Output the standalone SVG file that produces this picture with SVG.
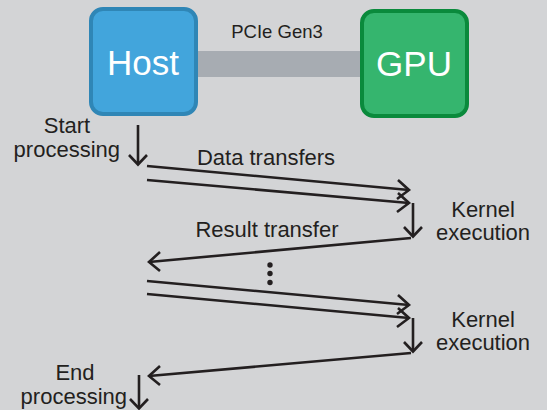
<svg xmlns="http://www.w3.org/2000/svg" width="547" height="410" viewBox="0 0 547 410">
<style>
.t{font-family:"Liberation Sans",Arial,sans-serif;font-size:22px;fill:#231f20}
.big{font-family:"Liberation Sans",Arial,sans-serif;font-size:35px;fill:#ffffff;text-anchor:middle}
.ln{stroke:#231f20;stroke-width:2.6;fill:none;stroke-linecap:butt}
.hd{stroke:#231f20;stroke-width:2.6;fill:none;stroke-linejoin:miter}
</style>
<rect width="547" height="410" fill="#d3d4d6"/>
<g id="link">
<rect x="195" y="51" width="168" height="26" fill="#a7acb2"/>
<text x="277" y="38" class="t" style="font-size:18.5px" text-anchor="middle">PCIe Gen3</text>
</g>
<g id="host">
<rect x="91" y="9" width="105" height="105" rx="12" fill="#42a5dc" stroke="#2f86b6" stroke-width="4"/>
<text x="143" y="75" class="big">Host</text>
</g>
<g id="gpu">
<rect x="362" y="11" width="105" height="105" rx="12" fill="#35b56e" stroke="#0a8a3c" stroke-width="4"/>
<text x="414" y="76" class="big">GPU</text>
</g>
<g id="labels">
<text x="67" y="133" class="t" text-anchor="middle">Start</text>
<text x="120" y="157" class="t" text-anchor="end">processing</text>
<text x="266" y="165" class="t" text-anchor="middle">Data transfers</text>
<text x="267" y="237" class="t" text-anchor="middle">Result transfer</text>
<text x="483" y="217" class="t" text-anchor="middle">Kernel</text>
<text x="483" y="240" class="t" text-anchor="middle">execution</text>
<text x="483" y="327" class="t" text-anchor="middle">Kernel</text>
<text x="483" y="350" class="t" text-anchor="middle">execution</text>
<text x="75" y="380" class="t" text-anchor="middle">End</text>
<text x="127" y="404" class="t" text-anchor="end">processing</text>
</g>
<g id="dots" fill="#231f20">
<circle cx="270" cy="265" r="2.7"/>
<circle cx="270" cy="273.5" r="2.7"/>
<circle cx="270" cy="282.5" r="2.7"/>
</g>
<g id="connectors">
<line class="ln" x1="138" y1="125" x2="138" y2="164"/>
<polyline class="hd" points="129,155 138,164.5 147,155"/>
<line class="ln" x1="147" y1="166" x2="409" y2="190"/>
<polyline class="hd" points="398,180 409,190 397,199"/>
<line class="ln" x1="147" y1="180" x2="409" y2="203"/>
<polyline class="hd" points="398,193 409,203 397,212"/>
<line class="ln" x1="413" y1="203" x2="413" y2="236"/>
<polyline class="hd" points="404,227 413,236.5 422,227"/>
<line class="ln" x1="411" y1="238" x2="149" y2="262"/>
<polyline class="hd" points="160,252 149,262 160,271"/>
<line class="ln" x1="147" y1="281" x2="409" y2="305"/>
<polyline class="hd" points="398,295 409,305 397,314"/>
<line class="ln" x1="147" y1="294" x2="409" y2="318"/>
<polyline class="hd" points="398,308 409,318 397,327"/>
<line class="ln" x1="413" y1="318" x2="413" y2="351"/>
<polyline class="hd" points="404,342 413,351.5 422,342"/>
<line class="ln" x1="411" y1="353" x2="149" y2="376"/>
<polyline class="hd" points="160,366 149,376 160,385"/>
<line class="ln" x1="139" y1="375" x2="139" y2="408"/>
<polyline class="hd" points="130,399 139,408.5 148,399"/>
</g>
</svg>
